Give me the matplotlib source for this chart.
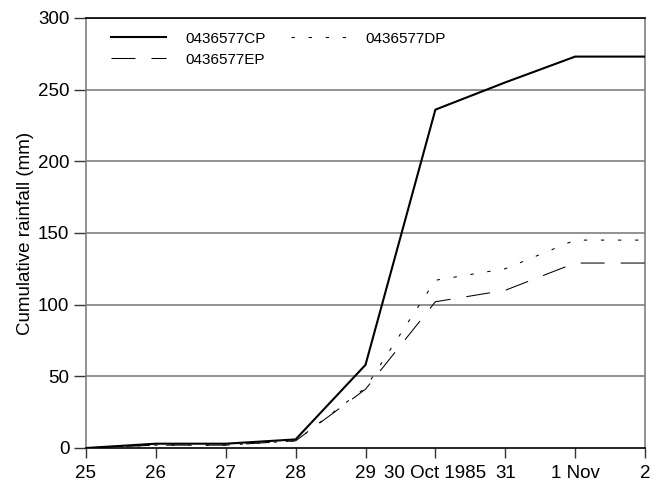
import matplotlib
matplotlib.use("Agg")
import matplotlib.pyplot as plt

plt.rcParams['font.family'] = ['Liberation Sans', 'DejaVu Sans']

days = [25, 26, 27, 28, 29, 30, 31, 32, 33]
tick_labels = ["25", "26", "27", "28", "29", "30 Oct 1985", "31", "1 Nov", "2"]
cp = [0, 3, 3, 6, 58, 236, 255, 273, 273]
dp = [0, 2, 2, 5, 42, 117, 125, 145, 145]
ep = [0, 2, 2, 5, 41, 102, 110, 129, 129]
yticks = [0, 50, 100, 150, 200, 250, 300]

fig = plt.figure(figsize=(6.52, 4.86), dpi=100)
ax = fig.add_axes([0.1319, 0.0782, 0.8574, 0.885])

for y in yticks[1:]:
    ax.axhline(y, color='#7f7f7f', lw=1.2, zorder=1)

l1, = ax.plot(days, cp, color='black', lw=1.5, label='0436577CP', zorder=3)
l2, = ax.plot(days, dp, color='black', lw=0.75, linestyle=(0, (3.2, 13.2)), label='0436577DP', zorder=3)
l3, = ax.plot(days, ep, color='black', lw=0.75, linestyle=(0, (23, 15.4)), label='0436577EP', zorder=3)

ax.set_xlim(25, 33)
ax.set_ylim(0, 300)
ax.set_xticks(days)
ax.set_xticklabels(tick_labels)
ax.set_yticks(yticks)
ax.tick_params(axis='both', direction='out', width=1, color='#333333', labelsize=13.5)
ax.tick_params(axis='y', length=8.5, pad=3.5)
ax.tick_params(axis='x', length=7.5, pad=5)
ax.set_ylabel('Cumulative rainfall (mm)', fontsize=13.5, labelpad=3)

for s in ['left', 'right']:
    ax.spines[s].set_color('#7f7f7f')
    ax.spines[s].set_linewidth(1.2)
ax.spines['top'].set_color('black')
ax.spines['top'].set_linewidth(1.2)
ax.spines['bottom'].set_color('black')
ax.spines['bottom'].set_linewidth(1.2)

ax.legend(handles=[l1, l3, l2], ncol=2, frameon=False, loc='upper left',
          bbox_to_anchor=(0.02, 1.0), fontsize=11, handlelength=3.6,
          columnspacing=1.6, handletextpad=1.3, labelspacing=0.45)

fig.savefig('out.png', dpi=100)
